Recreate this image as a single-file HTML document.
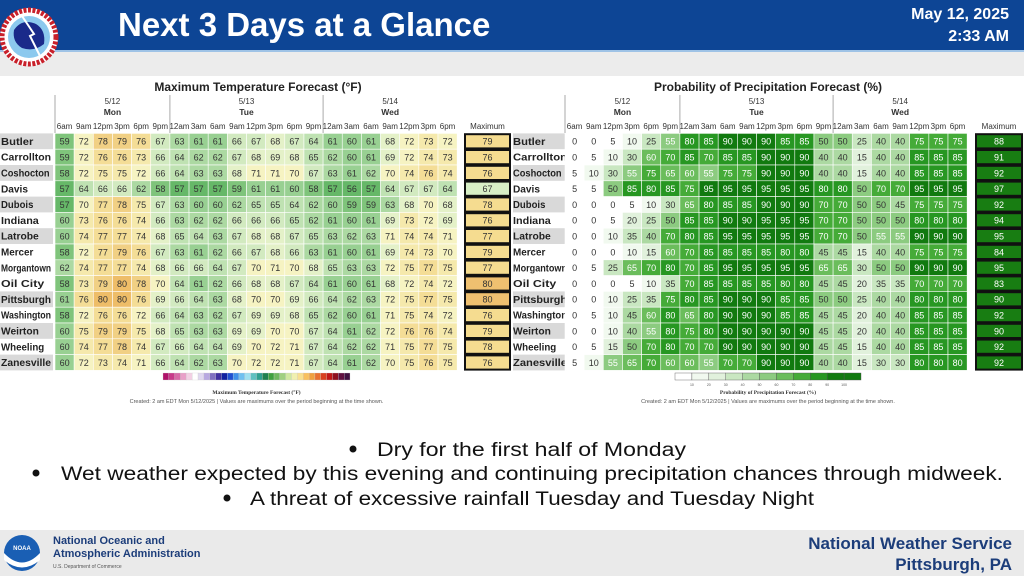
<!DOCTYPE html>
<html><head><meta charset="utf-8">
<style>
html,body{margin:0;padding:0;width:1024px;height:576px;overflow:hidden;background:#fff;font-family:"Liberation Sans",sans-serif}
#root{position:relative;width:1024px;height:576px}
svg{position:absolute;left:0;top:0}
</style></head>
<body><div id="root">
<svg id="s" width="1024" height="576" viewBox="0 0 1024 576">
<rect x="0" y="0" width="1024" height="50" fill="#0d4595"/>
<rect x="0" y="50" width="1024" height="2" fill="#9fc3e6"/>
<rect x="0" y="52" width="1024" height="24" fill="#ececec"/>
<g>
<circle cx="29" cy="37" r="29" fill="#fff"/>
<circle cx="29" cy="37" r="27" fill="none" stroke="#c8202a" stroke-width="5" stroke-dasharray="3 1.5"/>
<circle cx="29" cy="37" r="21" fill="#8cc9ee"/>
<path d="M14 30 Q22 18 36 24 Q46 30 44 44 Q34 52 22 48 Q12 42 14 30Z" fill="#1a2a8a"/>
<path d="M22 16 L34 34 L30 36 L40 56" stroke="#fff" stroke-width="2" fill="none"/>
</g>
<text x="118" y="36" font-size="33" font-weight="bold" fill="#fff">Next 3 Days at a Glance</text>
<text x="1009" y="19" font-size="16" font-weight="bold" fill="#fff" text-anchor="end">May 12, 2025</text>
<text x="1009" y="41" font-size="16" font-weight="bold" fill="#fff" text-anchor="end">2:33 AM</text>

<g id="bul">
<circle cx="353" cy="449" r="3.5" fill="#111"/>
<text x="377" y="456" font-size="19" fill="#111" textLength="309" lengthAdjust="spacingAndGlyphs">Dry for the first half of Monday</text>
<circle cx="36" cy="473" r="3.5" fill="#111"/>
<text x="61" y="480" font-size="19" fill="#111" textLength="942" lengthAdjust="spacingAndGlyphs">Wet weather expected by this evening and continuing precipitation chances through midweek.</text>
<circle cx="227" cy="498" r="3.5" fill="#111"/>
<text x="250" y="505" font-size="19" fill="#111" textLength="564" lengthAdjust="spacingAndGlyphs">A threat of excessive rainfall Tuesday and Tuesday Night</text>
</g>

<rect x="0" y="530" width="1024" height="46" fill="#eaeaea"/>
<g>
<circle cx="22" cy="553" r="18" fill="#1a5fb4"/>
<path d="M4 553 Q22 572 40 553 L40 560 Q22 575 4 560Z" fill="#fff"/>
<text x="22" y="550" font-size="6" font-weight="bold" fill="#fff" text-anchor="middle">NOAA</text>
</g>
<text x="53" y="544" font-size="11" font-weight="bold" fill="#1c3d7a">National Oceanic and</text>
<text x="53" y="557" font-size="11" font-weight="bold" fill="#1c3d7a">Atmospheric Administration</text>
<text x="53" y="568" font-size="5" fill="#555">U.S. Department of Commerce</text>
<text x="1012" y="549" font-size="17" font-weight="bold" fill="#1c3d7a" text-anchor="end">National Weather Service</text>
<text x="1012" y="570" font-size="17" font-weight="bold" fill="#1c3d7a" text-anchor="end">Pittsburgh, PA</text>
</svg>
</div>
<script>
const cities=["Butler","Carrollton","Coshocton","Davis","Dubois","Indiana","Latrobe","Mercer","Morgantown","Oil City","Pittsburgh","Washington","Weirton","Wheeling","Zanesville"];
const labelShade=[1,0,1,0,1,0,1,0,0,0,1,0,1,0,1];
const hours=["6am","9am","12pm","3pm","6pm","9pm","12am","3am","6am","9am","12pm","3pm","6pm","9pm","12am","3am","6am","9am","12pm","3pm","6pm"];
const days=[["5/12","Mon",0,6],["5/13","Tue",6,14],["5/14","Wed",14,21]];
const tempVals=[
[59,72,78,79,76,67,63,61,61,66,67,68,67,64,61,60,61,68,72,73,72],
[59,72,76,76,73,66,64,62,62,67,68,69,68,65,62,60,61,69,72,74,73],
[58,72,75,75,72,66,64,63,63,68,71,71,70,67,63,61,62,70,74,76,74],
[57,64,66,66,62,58,57,57,57,59,61,61,60,58,57,56,57,64,67,67,64],
[57,70,77,78,75,67,63,60,60,62,65,65,64,62,60,59,59,63,68,70,68],
[60,73,76,76,74,66,63,62,62,66,66,66,65,62,61,60,61,69,73,72,69],
[60,74,77,77,74,68,65,64,63,67,68,68,67,65,63,62,63,71,74,74,71],
[58,72,77,79,76,67,63,61,62,66,67,68,66,63,61,60,61,69,74,73,70],
[62,74,77,77,74,68,66,66,64,67,70,71,70,68,65,63,63,72,75,77,75],
[58,73,79,80,78,70,64,61,62,66,68,68,67,64,61,60,61,68,72,74,72],
[61,76,80,80,76,69,66,64,63,68,70,70,69,66,64,62,63,72,75,77,75],
[58,72,76,76,72,66,64,63,62,67,69,69,68,65,62,60,61,71,75,74,72],
[60,75,79,79,75,68,65,63,63,69,69,70,70,67,64,61,62,72,76,76,74],
[60,74,77,78,74,67,66,64,64,69,70,72,71,67,64,62,62,71,75,77,75],
[60,72,73,74,71,66,64,62,63,70,72,72,71,67,64,61,62,70,75,76,75]];
const tempMax=[79,76,76,67,78,76,77,79,77,80,80,76,79,78,76];
const popVals=[
[0,0,5,10,25,55,80,85,90,90,90,85,85,50,50,25,40,40,75,75,75],
[0,5,10,30,60,70,85,70,85,85,90,90,90,40,40,15,40,40,85,85,85],
[5,10,30,55,75,65,60,55,75,75,90,90,90,40,40,15,40,40,85,85,85],
[5,5,50,85,80,85,75,95,95,95,95,95,95,80,80,50,70,70,95,95,95],
[0,0,0,5,10,30,65,80,85,85,90,90,90,70,70,50,50,45,75,75,75],
[0,0,5,20,25,50,85,85,90,90,95,95,95,70,70,50,50,50,80,80,80],
[0,0,10,35,40,70,80,85,95,95,95,95,95,70,70,50,55,55,90,90,90],
[0,0,0,10,15,60,70,85,85,85,85,80,80,45,45,15,40,40,75,75,75],
[0,5,25,65,70,80,70,85,95,95,95,95,95,65,65,30,50,50,90,90,90],
[0,0,0,5,10,35,70,85,85,85,85,80,80,45,45,20,35,35,70,70,70],
[0,0,10,25,35,75,80,85,90,90,90,85,85,50,50,25,40,40,80,80,80],
[0,5,10,45,60,80,65,80,90,90,90,85,85,45,45,20,40,40,85,85,85],
[0,0,10,40,55,80,75,80,90,90,90,90,90,45,45,20,40,40,85,85,85],
[0,5,15,50,70,80,70,70,90,90,90,90,90,45,45,15,40,40,85,85,85],
[5,10,55,65,70,60,60,55,70,70,90,90,90,40,40,15,30,30,80,80,80]];
const popMax=[88,91,92,97,92,94,95,84,95,83,90,92,90,92,92];
const popTicks=["10","20","30","40","50","60","70","80","90","100"];

const svg=document.getElementById('s');
const NS="http://www.w3.org/2000/svg";
function mk(tag,attrs,parent){const e=document.createElementNS(NS,tag);for(const k in attrs)e.setAttribute(k,attrs[k]);(parent||svg).appendChild(e);return e;}
function tempColor(v){
  if(v<=57)return"#66b868";if(v<=59)return"#7fc47b";if(v<=61)return"#98d092";if(v<=63)return"#acd9a2";
  if(v<=65)return"#bfe2b2";if(v<=67)return"#d2eac0";if(v<=69)return"#e4f1c8";if(v<=72)return"#f6f3c2";
  if(v<=75)return"#f5e9ac";if(v<=77)return"#f4dd96";if(v<=79)return"#f1d084";return"#eebd68";}
function popColor(v){
  if(v<=5)return"#ffffff";if(v<=10)return"#f1f9ef";if(v<=20)return"#e1f1dc";if(v<=35)return"#c9e7c1";
  if(v<=45)return"#acd9a2";if(v<=55)return"#8ccb80";if(v<=65)return"#6bbd5c";if(v<=75)return"#45ab38";
  if(v<=85)return"#279722";return"#117a0f";}
const rowTop=133.4,rowH=15.8,colW=19.15;
function rowY(i){return rowTop+i*rowH;}

function drawTable(ox,title,vals,maxes,colorFn,isPop,name){
  const g=mk('g',{});
  
  
  const x0=ox+55, labW=isPop?57:53;
  const colX=j=>x0+j*colW;
  const t=mk('text',{x:ox+258,y:91,'font-size':12,'font-weight':'bold',fill:'#222','text-anchor':'middle'},g);
  t.textContent=title;
  
  
  days.forEach(d=>{
    const cx=(colX(d[2])+colX(d[3]))/2;
    const a=mk('text',{x:cx,y:104,'font-size':8,fill:'#333','text-anchor':'middle'},g);a.textContent=d[0];
    
    
    const b=mk('text',{x:cx,y:115,'font-size':8.5,'font-weight':'bold',fill:'#333','text-anchor':'middle'},g);b.textContent=d[1];
    
    
    if(d[2]>0){mk('line',{x1:colX(d[2]),x2:colX(d[2]),y1:95,y2:rowY(cities.length),stroke:'#aaa','stroke-width':1},g);}
  });
  mk('line',{x1:x0,x2:x0,y1:95,y2:133,stroke:'#aaa','stroke-width':1},g);
  hours.forEach((h,j)=>{
    const e=mk('text',{x:colX(j)+colW/2,y:129,'font-size':8,fill:'#333','text-anchor':'middle'},g);e.textContent=h;
    
    
  });
  const mx=isPop?ox+466:ox+465, mw=isPop?46:45;
  const mh=mk('text',{x:mx+mw/2,y:129,'font-size':8,fill:'#333','text-anchor':'middle'},g);mh.textContent="Maximum";
  
  
  cities.forEach((c,i)=>{
    const y=rowY(i);
    if(labelShade[i]){mk('rect',{x:ox+(isPop?3:0),y:y,width:labW-(isPop?3:0),height:rowH,fill:'#d9d9d9'},g);}
    const lt=mk('text',{x:ox+(isPop?3:1),y:y+11.5,'font-size':10.5,'font-weight':'bold',fill:'#222',textLength:Math.min(c.length*5.4,labW-3),lengthAdjust:'spacingAndGlyphs'},g);
    lt.textContent=c;
    
    
    vals[i].forEach((v,j)=>{
      const r=mk('rect',{x:colX(j),y:y,width:colW,height:rowH,fill:colorFn(v),stroke:'#fff','stroke-width':0.6},g);
      
      
      const tx=mk('text',{x:colX(j)+colW/2,y:y+11.3,'font-size':9,fill:(isPop&&v>=55)?'#fff':'#333','text-anchor':'middle'},g);
      tx.textContent=v;
      
      
    });
    const m=maxes[i];
    const mr=mk('rect',{x:mx,y:y+0.8,width:mw,height:rowH-1.6,fill:isPop?'#187d12':(m<=69?'#d8efc6':(m>=80?'#efc070':'#f5dc90')),stroke:'#111','stroke-width':2},g);
    
    
    const mt=mk('text',{x:mx+mw/2,y:y+11.3,'font-size':9,fill:isPop?'#fff':'#333','text-anchor':'middle'},g);
    mt.textContent=m;
    
    
  });
  const cb=mk('g',{},g);
  
  
  const bx=isPop?ox+165:ox+163, bw=isPop?186:187;
  if(isPop){
    const n=11;
    for(let k=0;k<n;k++){
      mk('rect',{x:bx+k*bw/n,y:373,width:bw/n,height:7,fill:popColor(k*10),stroke:'#555','stroke-width':0.4},cb);
    }
    popTicks.forEach((tk,k)=>{const e=mk('text',{x:bx+(k+1)*bw/n,y:386,'font-size':3.5,fill:'#555','text-anchor':'middle'},cb);e.textContent=tk;});
  }else{
    const cols=["#b0126a","#c83a8a","#d86aa8","#e8a0c8","#f2d0e4","#fff","#e0d8f0","#b8a8e0","#8070c0","#4030a0","#1020a0","#2050d0","#4090e8","#70c0f0","#a0e0f0","#60c0c0","#30a090","#208050","#40a040","#70b860","#a0d080","#d0e8a0","#f0f0b0","#f8e090","#f8c060","#f0a040","#e87030","#d84020","#c01818","#901020","#601040","#401040"];
    cols.forEach((c,k)=>{mk('rect',{x:bx+k*bw/cols.length,y:373,width:bw/cols.length,height:7,fill:c,stroke:'#ccc','stroke-width':0.3},cb);});
  }
  const ct=mk('text',{x:bx+bw/2,y:394,'font-size':5.5,'font-weight':'bold','font-family':'Liberation Serif',fill:'#333','text-anchor':'middle'},cb);
  ct.textContent=isPop?"Probability of Precipitation Forecast (%)":"Maximum Temperature Forecast (°F)";
  const cr=mk('text',{x:bx+bw/2,y:403,'font-size':5.5,fill:'#555','text-anchor':'middle'},g);
  cr.textContent="Created: 2 am EDT Mon 5/12/2025  |  Values are maximums over the period beginning at the time shown.";
  
  
}
drawTable(0,"Maximum Temperature Forecast (°F)",tempVals,tempMax,tempColor,false,'temperature-table');
drawTable(510,"Probability of Precipitation Forecast (%)",popVals,popMax,popColor,true,'precipitation-table');
</script>
</body></html>
